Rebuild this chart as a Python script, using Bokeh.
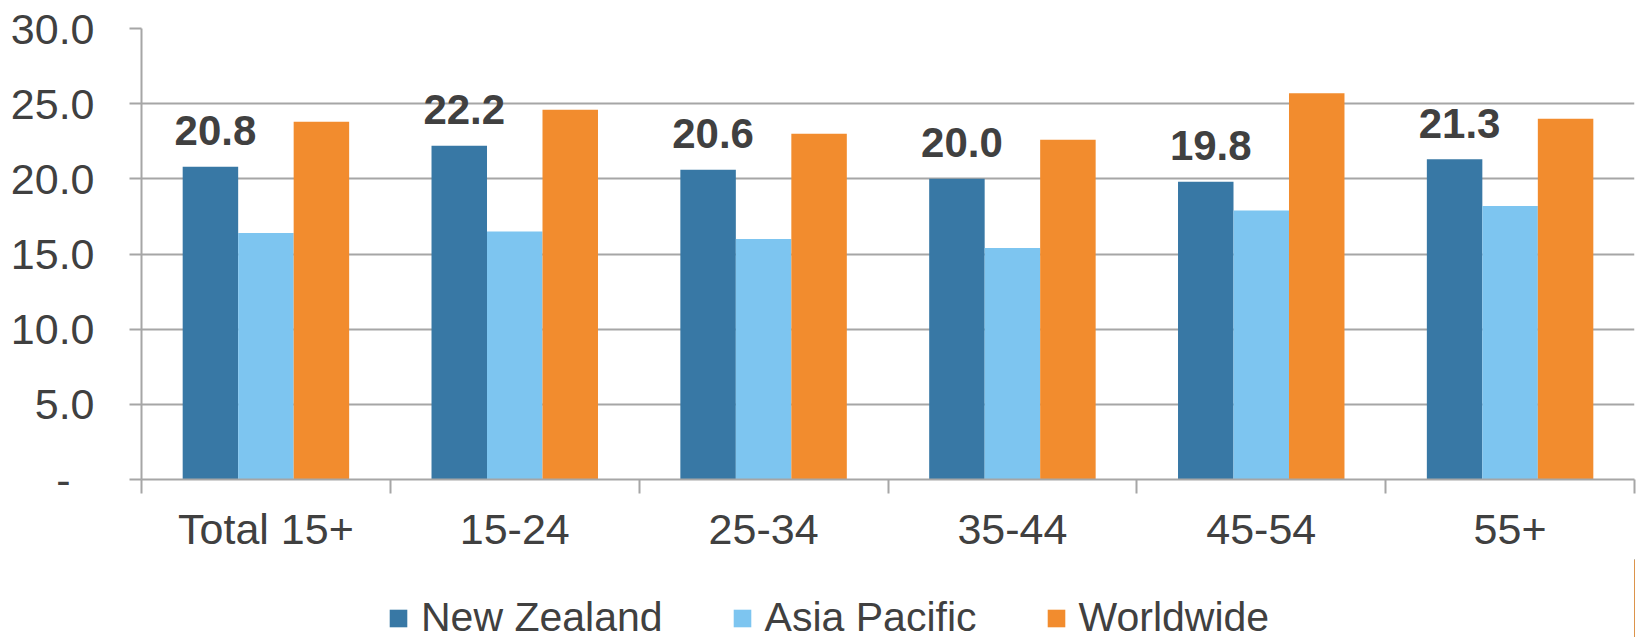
from bokeh.plotting import figure
from bokeh.layouts import column
from bokeh.models import (ColumnDataSource, FactorRange, Range1d, LinearAxis, CategoricalAxis,
                          FixedTicker, Legend, LegendItem, NumeralTickFormatter)
from bokeh.transform import dodge
from bokeh.core.properties import value
from bokeh.embed import file_html
from bokeh.resources import INLINE

categories = ["Total 15+", "15-24", "25-34", "35-44", "45-54", "55+"]
new_zealand = [20.8, 22.2, 20.6, 20.0, 19.8, 21.3]
asia_pacific = [16.4, 16.5, 16.0, 15.4, 17.9, 18.2]
worldwide = [23.8, 24.6, 23.0, 22.6, 25.7, 24.0]
series_names = ["New Zealand", "Asia Pacific", "Worldwide"]
y_ticks = [0, 5, 10, 15, 20, 25, 30]

FONT = "Liberation Sans"
TXT = "#404040"
GRID = "#a6a6a6"
COLORS = ["#3878a5", "#7dc5f0", "#f28c2e"]

src = ColumnDataSource(dict(cat=categories, nz=new_zealand, ap=asia_pacific, ww=worldwide,
                            nz_lbl=[f"{v:.1f}" for v in new_zealand]))

p = figure(x_range=FactorRange(factors=categories, range_padding=0), y_range=Range1d(0, 30),
           frame_width=1493, frame_height=451, output_backend="svg", toolbar_location=None,
           x_axis_location=None, min_border_left=141, min_border_right=6,
           min_border_top=28, min_border_bottom=80)
p.outline_line_color = None
p.xgrid.visible = False
p.ygrid.grid_line_color = GRID
p.ygrid.grid_line_width = 2
p.ygrid.ticker = FixedTicker(ticks=y_ticks)

ya = p.yaxis[0]
ya.ticker = FixedTicker(ticks=y_ticks)
ya.formatter = NumeralTickFormatter(format="0.0")
ya.major_label_overrides = {0: "-\u00a0\u00a0"}
ya.major_label_text_font = FONT
ya.major_label_text_font_size = "43px"
ya.major_label_text_color = TXT
ya.major_label_standoff = 35
ya.major_tick_in = 0
ya.major_tick_out = 12
ya.major_tick_line_color = GRID
ya.major_tick_line_width = 2
ya.minor_tick_line_color = None
ya.axis_line_color = GRID
ya.axis_line_width = 2

# category boundary tick marks (synthetic coordinates of the factor range)
bounds = list(range(len(categories) + 1))
tick_axis = LinearAxis(ticker=FixedTicker(ticks=bounds),
                       major_label_overrides={i: "" for i in bounds},
                       major_tick_in=0, major_tick_out=14, major_tick_line_color=GRID,
                       major_tick_line_width=2, minor_tick_line_color=None,
                       axis_line_color=GRID, axis_line_width=2,
                       major_label_standoff=0, major_label_text_font_size="1px")
p.add_layout(tick_axis, "below")

cat_axis = CategoricalAxis(major_tick_line_color=None, axis_line_color=None,
                           major_label_standoff=5, major_label_text_font=FONT,
                           major_label_text_font_size="43px", major_label_text_color=TXT)
p.add_layout(cat_axis, "below")

w = 0.223
p.vbar(x=dodge("cat", -w, range=p.x_range), top="nz", width=w, source=src,
       fill_color=COLORS[0], line_color=None)
p.vbar(x=dodge("cat", 0, range=p.x_range), top="ap", width=w, source=src,
       fill_color=COLORS[1], line_color=None)
p.vbar(x=dodge("cat", w, range=p.x_range), top="ww", width=w, source=src,
       fill_color=COLORS[2], line_color=None)

p.text(x=dodge("cat", -w, range=p.x_range), y="nz", text="nz_lbl", source=src,
       x_offset=5, y_offset=-36, text_align="center", text_baseline="alphabetic",
       text_font=value(FONT), text_font_style="bold", text_font_size="42px", text_color=TXT)

# legend strip below the chart (its frame is aligned with the chart's frame by the column)
lf = figure(width=1640, height=78, output_backend="svg", toolbar_location=None,
            x_axis_location=None, y_axis_location=None,
            x_range=Range1d(0, 1), y_range=Range1d(0, 1), min_border=0)
lf.outline_line_color = None
lf.xgrid.visible = False
lf.ygrid.visible = False
# legend swatch renderers: same series data, lying outside this strip's visible range
swatches = [lf.vbar(x=col, top=col, width=0.1, source=src, fill_color=c, line_color=None)
            for col, c in zip(["nz", "ap", "ww"], COLORS)]

legend = Legend(items=[LegendItem(label=n, renderers=[r]) for n, r in zip(series_names, swatches)],
                orientation="horizontal", location=(246, -4),
                label_text_font=FONT, label_text_font_size="41px", label_text_color=TXT,
                glyph_width=22, glyph_height=22, label_standoff=12, spacing=68,
                padding=0, margin=0, border_line_color=None, background_fill_alpha=0)
lf.add_layout(legend)

layout = column(p, lf, spacing=0)
open("out.html", "w").write(file_html(layout, INLINE))
